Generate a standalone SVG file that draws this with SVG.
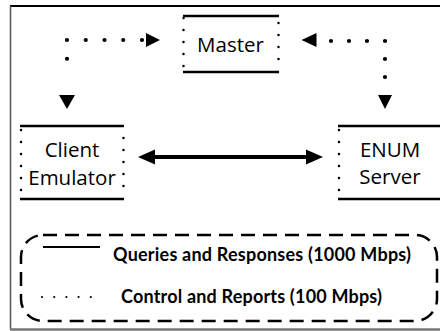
<svg xmlns="http://www.w3.org/2000/svg" width="440" height="331" viewBox="0 0 440 331">
<style>
.bar{stroke:#000;stroke-width:2.5;fill:none}
.side{stroke:#000;stroke-width:2.5;stroke-linecap:round;stroke-dasharray:0 12;fill:none}
.dot{stroke:#000;stroke-width:4.2;stroke-linecap:round;fill:none}
.lbl{font-family:"Open Sans","DejaVu Sans",sans-serif;font-size:20.5px;fill:#000;text-anchor:middle}
.leg{font-family:Lato,"Liberation Sans",sans-serif;font-weight:bold;font-size:18px;fill:#000}
.head{fill:#000}
</style>
<rect width="440" height="331" fill="#fff"/>
<g id="frame">
<line x1="10" y1="6" x2="440" y2="6" stroke="#000" stroke-width="2"/>
<line x1="10.5" y1="6" x2="10.5" y2="329" stroke="#555" stroke-width="1.5"/>
<line x1="10" y1="329.5" x2="440" y2="329.5" stroke="#777" stroke-width="2.5"/>
</g>
<g id="master">
<line class="bar" x1="183" y1="16" x2="279" y2="16"/>
<line class="bar" x1="183" y1="72" x2="279" y2="72"/>
<line class="side" x1="183.5" y1="18" x2="183.5" y2="70"/>
<line class="side" x1="278.5" y1="23" x2="278.5" y2="66"/>
<text class="lbl" x="230.5" y="52">Master</text>
</g>
<g id="client">
<line class="bar" x1="20" y1="126" x2="124" y2="126"/>
<line class="bar" x1="20" y1="199" x2="124" y2="199"/>
<line class="side" x1="21" y1="130" x2="21" y2="192"/>
<line class="side" x1="123.5" y1="138" x2="123.5" y2="188"/>
<text class="lbl" x="72" y="157">Client</text>
<text class="lbl" x="72" y="185">Emulator</text>
</g>
<g id="enum">
<line class="bar" x1="338" y1="126" x2="440" y2="126"/>
<line class="bar" x1="338" y1="199" x2="440" y2="199"/>
<line class="side" x1="339" y1="130" x2="339" y2="192"/>
<text class="lbl" x="390" y="157">ENUM</text>
<text class="lbl" x="390" y="184">Server</text>
</g>
<g id="connectors">
<path class="dot" d="M142,40 H67 V77.5" stroke-dasharray="0 18.75"/>
<polygon class="head" points="146,33 160,40 146,47"/>
<polygon class="head" points="59,95 75,95 67,109"/>
<path class="dot" d="M331,41 H385 V80" stroke-dasharray="0 18"/>
<polygon class="head" points="316.5,33 301.5,40 316.5,47"/>
<polygon class="head" points="378,95 392,95 385,109"/>
<line x1="153" y1="157" x2="308" y2="157" stroke="#000" stroke-width="4"/>
<polygon class="head" points="155,149.5 138,157 155,164.5"/>
<polygon class="head" points="306,149.5 323,157 306,164.5"/>
</g>
<g id="legend">
<rect x="21" y="235" width="416" height="86" rx="22" ry="22" fill="none" stroke="#000" stroke-width="2.5" stroke-dasharray="14 8"/>
<line x1="43" y1="247" x2="100" y2="247" stroke="#000" stroke-width="2"/>
<text class="leg" x="113" y="261" textLength="298">Queries and Responses (1000 Mbps)</text>
<path d="M42,297 H92" stroke="#000" stroke-width="2.2" stroke-linecap="round" stroke-dasharray="0 12.2" fill="none"/>
<text class="leg" x="121" y="303" textLength="261">Control and Reports (100 Mbps)</text>
</g>
</svg>
